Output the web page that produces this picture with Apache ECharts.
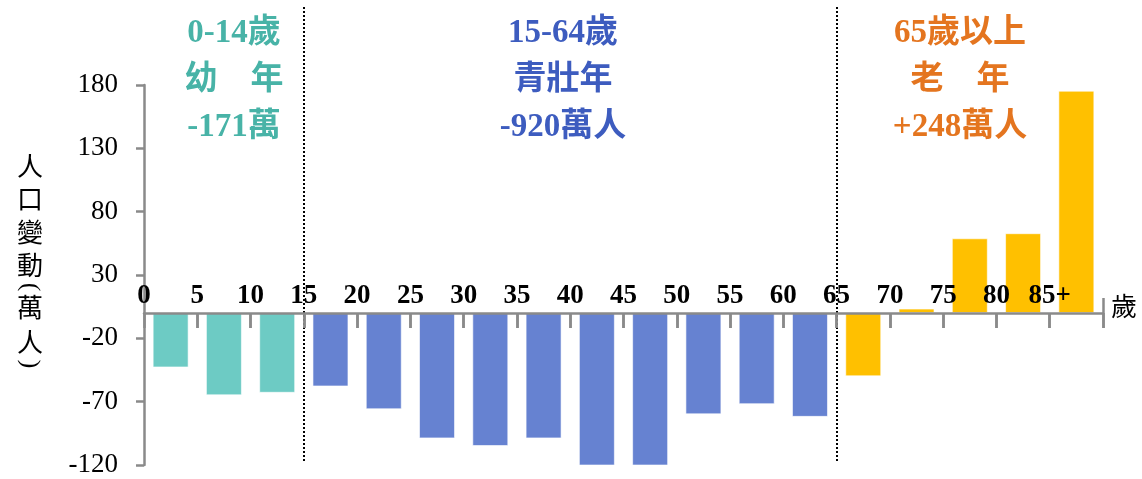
<!DOCTYPE html>
<html><head><meta charset="utf-8">
<script src="https://cdn.jsdelivr.net/npm/echarts@6/dist/echarts.min.js"></script>
<style>html,body{margin:0;padding:0;background:#fff}#c{width:1142px;height:479px}</style>
</head><body><div id="c"></div>
<script>
// Age groups (5-year bands), start age of each band
const categories = ['0-4','5-9','10-14','15-19','20-24','25-29','30-34','35-39','40-44','45-49','50-54','55-59','60-64','65-69','70-74','75-79','80-84','85+'];
const bandStart = [0, 5, 10, 15, 20, 25, 30, 35, 40, 45, 50, 55, 60, 65, 70, 75, 80, 85];
const bandWidth = 5;
// Population change (萬人)
const changeValues = [-43, -65, -63, -58, -76, -99, -105, -99, -121, -121, -80, -72, -82, -50, 3.5, 59, 63, 175.5];
// Boundary tick labels on the age axis
const tickLabels = ['0','5','10','15','20','25','30','35','40','45','50','55','60','65','70','75','80','85+'];
// Y axis range / ticks
const yMin = -120, yMax = 180, yStep = 50;
// Group annotations
const groupTexts = ['0-14歲\n幼　年\n-171萬', '15-64歲\n青壯年\n-920萬人', '65歲以上\n老　年\n+248萬人'];
const groupStart = [0, 15, 65];           // first age of each group
const groupBoundaries = [15, 65];         // dotted separators (age)

const barColors = ['#6DCBC4', '#6682D1', '#FFC000'];
const textColors = ['#48B3A7', '#3D5CBF', '#E4751F'];
const textX = [234, 563, 960];

function groupOf(age) {
  let g = 0;
  for (let k = 0; k < groupStart.length; k++) if (age >= groupStart[k]) g = k;
  return g;
}
const barData = changeValues.map((v, i) => ({ name: categories[i], value: [bandStart[i] + bandWidth / 2, v] }));
const xMax = bandStart[bandStart.length - 1] + bandWidth;

// layout
const W = 1142, H = 479;
const gridTop = 85, gridBottom = 14;
const gridH = H - gridTop - gridBottom;
const pxPerUnit = gridH / (yMax - yMin);
const zeroOffset = -gridH * (0 - yMin) / (yMax - yMin); // move x axis up to y = 0
const tickLenPx = 15;
const tickLenVal = tickLenPx / pxPerUnit;

const axisGray = '#8A8A8A';
const cjk = '"Noto Sans CJK TC"';
const yTitleFont = '26px "Noto Sans CJK TC"';

const tickStyle = { type: 'solid', color: axisGray, width: 2.5 };
const dotStyle = { type: [2, 2], color: '#000', width: 2 };
// dotted group separators + x-axis boundary ticks
const markLines = groupBoundaries.map(t => [{ xAxis: t, y: 7, lineStyle: dotStyle }, { xAxis: t, y: 463 }])
  .concat(bandStart.slice(1).map(t => [{ xAxis: t, yAxis: 0, lineStyle: tickStyle }, { xAxis: t, yAxis: -tickLenVal }]))
  .concat([[{ xAxis: xMax, yAxis: tickLenVal, lineStyle: tickStyle }, { xAxis: xMax, yAxis: -tickLenVal }]]);

const chart = echarts.init(document.getElementById('c'));
chart.setOption({
  animation: false,
  grid: { left: 144, right: 39, top: gridTop, bottom: gridBottom, containLabel: false },
  xAxis: {
    type: 'value', min: 0, max: xMax, interval: bandWidth, position: 'bottom', offset: zeroOffset, z: 5,
    splitLine: { show: false },
    axisLine: { show: true, onZero: false, lineStyle: { color: axisGray, width: 2.5 } },
    axisTick: { show: true, inside: false, length: tickLenPx, lineStyle: { color: axisGray, width: 2.5 } },
    axisLabel: { inside: true, margin: 3, fontSize: 27, fontWeight: 'bold',
      fontFamily: '"Liberation Serif"', color: '#000', showMaxLabel: true, showMinLabel: true,
      formatter: v => { const i = bandStart.indexOf(v); return i >= 0 ? tickLabels[i] : ''; } },
    name: '歲', nameLocation: 'end', nameGap: 8,
    nameTextStyle: { fontSize: 26, fontFamily: cjk, color: '#000', verticalAlign: 'bottom', lineHeight: 14 }
  },
  yAxis: {
    type: 'value', min: yMin, max: yMax, interval: yStep,
    splitLine: { show: false },
    axisLine: { show: true, onZero: false, lineStyle: { color: axisGray, width: 2.5 } },
    axisTick: { show: true, length: 8, lineStyle: { color: axisGray, width: 2.5 } },
    axisLabel: { margin: 26, fontSize: 27, fontFamily: '"Liberation Serif"', color: '#000' }
  },
  series: [
    {
      type: 'bar', data: barData, barWidth: 36, z: 2,
      itemStyle: { color: p => barColors[groupOf(p.value[0])], borderColor: 'rgba(255,255,255,0.6)', borderWidth: 1 },
      markLine: {
        silent: true, symbol: 'none', label: { show: false },
        lineStyle: dotStyle,
        data: markLines
      }
    }
  ],
  graphic: groupTexts.map((t, i) => ({
    type: 'text', x: textX[i], y: 10, silent: true,
    style: { text: t, fill: textColors[i], align: 'center', verticalAlign: 'top',
      font: 'bold 33px "Liberation Serif", "Noto Sans CJK TC"', lineHeight: 47 }
  })).concat([
    // vertical y-axis title: 人口變動(萬人)
    { type: 'text', x: 30, y: 150, silent: true,
      style: { text: '人\n口\n變\n動', fill: '#000', align: 'center', verticalAlign: 'top', font: yTitleFont, lineHeight: 33 } },
    { type: 'text', x: 30, y: 287, rotation: -Math.PI / 2, silent: true,
      style: { text: '(', fill: '#000', align: 'center', verticalAlign: 'middle', font: '26px "Liberation Serif"' } },
    { type: 'text', x: 30, y: 290, silent: true,
      style: { text: '萬\n人', fill: '#000', align: 'center', verticalAlign: 'top', font: yTitleFont, lineHeight: 35 } },
    { type: 'text', x: 30, y: 364, rotation: -Math.PI / 2, silent: true,
      style: { text: ')', fill: '#000', align: 'center', verticalAlign: 'middle', font: '26px "Liberation Serif"' } }
  ])
});
</script></body></html>
